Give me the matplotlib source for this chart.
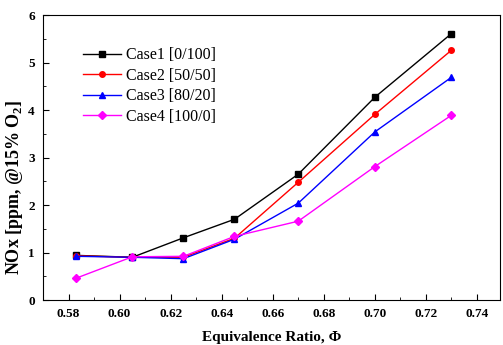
import matplotlib
matplotlib.use('Agg')
import matplotlib.pyplot as plt
from matplotlib.ticker import MultipleLocator

plt.rcParams['font.family'] = ['Liberation Serif', 'DejaVu Serif']
plt.rcParams['mathtext.fontset'] = 'custom'
plt.rcParams['mathtext.rm'] = 'Liberation Serif'
plt.rcParams['mathtext.bf'] = 'Liberation Serif:bold'

# equivalence ratio
phi = [0.583, 0.605, 0.625, 0.645, 0.670, 0.700, 0.730]

# NOx [ppm @15% O2]
case1 = [0.94, 0.90, 1.31, 1.70, 2.65, 4.27, 5.61]
case2 = [0.93, 0.90, 0.90, 1.30, 2.48, 3.91, 5.26]
case3 = [0.92, 0.90, 0.87, 1.28, 2.04, 3.54, 4.69]
case4 = [0.46, 0.91, 0.92, 1.34, 1.66, 2.81, 3.89]

labels = ['Case1 [0/100]', 'Case2 [50/50]', 'Case3 [80/20]', 'Case4 [100/0]']
colors = ['black', 'red', 'blue', 'magenta']
markers = ['s', 'o', '^', 'D']

fig = plt.figure(figsize=(5.03, 3.45), dpi=100)
ax = fig.add_axes([0.0855, 0.1304, 0.9085, 0.826])

for y, lab, c, m in zip([case1, case2, case3, case4], labels, colors, markers):
    ax.plot(phi, y, color=c, marker=m, markersize=4, linewidth=1.0, label=lab)

ax.set_xlim(0.570, 0.749)
ax.set_ylim(0, 6)
ax.xaxis.set_major_locator(MultipleLocator(0.02))
ax.xaxis.set_minor_locator(MultipleLocator(0.01))
ax.yaxis.set_major_locator(MultipleLocator(1))
ax.yaxis.set_minor_locator(MultipleLocator(0.5))
ax.tick_params(which='both', direction='in', top=False, right=False)
ax.tick_params(which='major', length=4, labelsize=9.5, pad=6)
ax.tick_params(which='minor', length=2)
ax.set_xticks(ax.get_xticks())
ax.set_xticklabels([f'{v:.2f}' for v in ax.get_xticks()], fontweight='bold')
for lbl in ax.get_yticklabels():
    lbl.set_fontweight('bold')
ax.set_xlim(0.570, 0.749)

ax.set_xlabel('Equivalence Ratio, \u03a6', fontsize=11, fontweight='bold', labelpad=8)
ax.set_ylabel(r'NOx [ppm, @15% O$_\mathbf{2}$]', fontsize=13, fontweight='bold')
ax.yaxis.set_label_coords(-0.04, 0.396)

ax.legend(loc='upper left', bbox_to_anchor=(0.056, 0.937), frameon=False,
          fontsize=11.5, handlelength=2.4, handletextpad=0.3,
          labelspacing=0.28)

fig.savefig('out.png', dpi=100)
